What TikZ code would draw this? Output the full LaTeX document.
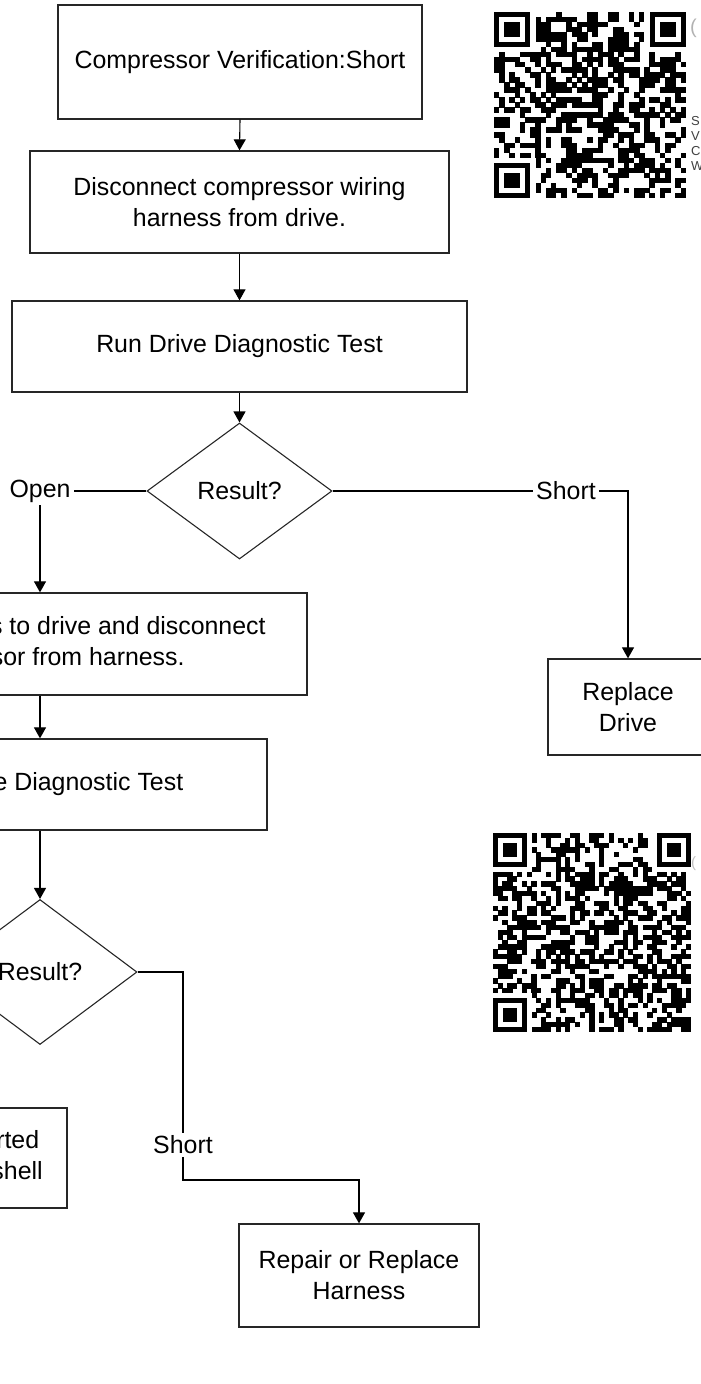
\documentclass[tikz,border=0pt]{standalone}
\usepackage{fontspec}
\setmainfont{Liberation Sans}
\usetikzlibrary{shapes.geometric,arrows.meta}
\newcommand{\mainfs}{\fontsize{24.9}{31}\selectfont}
\newcommand{\qrpattern}[6]{% x0, y0, width, height, N, seed
\begin{scope}[shift={(#1,#2)}]
\pgfmathsetseed{#6}
\pgfmathsetmacro{\qmx}{#3/#5}
\pgfmathsetmacro{\qmy}{#4/#5}
\pgfmathtruncatemacro{\qlast}{#5-1}
\pgfmathtruncatemacro{\qf}{#5-7}
\foreach \qi in {0,...,\qlast}{\foreach \qj in {0,...,\qlast}{%
  \pgfmathrandominteger{\qr}{0}{1}%
  \ifnum\qr=1 \fill[black] (\qi*\qmx-0.2,\qj*\qmy-0.2) rectangle ++(\qmx+0.4,\qmy+0.4);\fi}}
\foreach \fx/\fy in {0/0,\qf/0,0/\qf}{%
  \fill[white] ({(\fx-1)*\qmx},{(\fy-1)*\qmy}) rectangle ({(\fx+8)*\qmx},{(\fy+8)*\qmy});
  \fill[black] ({\fx*\qmx},{\fy*\qmy}) rectangle ({(\fx+7)*\qmx},{(\fy+7)*\qmy});
  \fill[white] ({(\fx+1)*\qmx},{(\fy+1)*\qmy}) rectangle ({(\fx+6)*\qmx},{(\fy+6)*\qmy});
  \fill[black] ({(\fx+2)*\qmx},{(\fy+2)*\qmy}) rectangle ({(\fx+5)*\qmx},{(\fy+5)*\qmy});
}
\end{scope}}
\begin{document}
\begin{tikzpicture}[x=1pt,y=-1pt,
  stepbox/.style={draw=black!85, line width=1.3pt, align=center, inner sep=0pt, font=\mainfs},
  decision/.style={draw=black!85, line width=1.1pt, shape=diamond, inner sep=0pt, font=\mainfs},
  conn/.style={draw=black, line width=1.1pt},
  arr/.style={conn, -{Triangle[width=12pt,length=11pt]}},
  lbl/.style={font=\mainfs, inner sep=3pt},
  qrside/.style={anchor=west, inner sep=0pt, font=\fontsize{13}{13}\selectfont, text=black!75}
]
\useasboundingbox (0,0) rectangle (701,1384);
\clip (0,0) rectangle (701,1384);

% QR codes
\qrpattern{494}{12}{192}{186}{37}{11}
\qrpattern{493}{833}{198}{199}{41}{27}
\node[anchor=west, inner sep=0pt, font=\fontsize{20}{20}\selectfont, text=black!30] (qp1) at (690,28) {(};
\node[qrside] (qs1) at (691,121) {S};
\node[qrside] (qs2) at (691,136) {V};
\node[qrside] (qs3) at (691,151) {C};
\node[qrside] (qs4) at (691,166) {W};
\node[anchor=west, inner sep=0pt, font=\fontsize{15}{15}\selectfont, text=black!25] (qp2) at (691,864) {(};

% boxes
\node[stepbox, minimum width=364, minimum height=114] (b1) at (240,62) {Compressor Verification:Short};
\node[stepbox, minimum width=419, minimum height=102] (b2) at (239.5,202) {Disconnect compressor wiring\\harness from drive.};
\node[stepbox, minimum width=455, minimum height=91] (b3) at (239.5,346.5) {Run Drive Diagnostic Test};
\node[decision, minimum width=185, minimum height=136] (d1) at (239.5,491) {Result?};
\node[lbl] (o1) at (40,491) {Open};
\node[lbl] (s1) at (566,491) {Short};
\node[stepbox, minimum width=534, minimum height=102] (b4) at (40,644) {Connect harness to drive and disconnect\\compressor from harness.};
\node[stepbox, minimum width=160, minimum height=96] (b6) at (628,707) {Replace\\Drive};
\node[stepbox, minimum width=454, minimum height=91] (b5) at (40,784.5) {Run Drive Diagnostic Test};
\node[decision, minimum width=194, minimum height=145] (d2) at (40,972) {Result?};
\node[stepbox, minimum width=306, minimum height=100] (b8) at (-86,1158) {Compressor is shorted\\to the compressor shell};
\node[lbl] (s2) at (183,1145) {Short};
\node[stepbox, minimum width=240, minimum height=103] (b7) at (359,1275.5) {Repair or Replace\\Harness};
\coordinate (k2) at (183,1180);

% connectors
\draw[arr] (b1.south) -- (b2.north);
\draw[arr] (b2.south) -- (b3.north);
\draw[arr] (b3.south) -- (d1.north);
\draw[conn] (d1.west) -- (o1.east);
\draw[arr] (o1.south) -- (b4.north);
\draw[conn] (d1.east) -- (s1.west);
\draw[arr] (s1.east) -| (b6.north);
\draw[arr] (b4.south) -- (b5.north);
\draw[arr] (b5.south) -- (d2.north);
\draw[conn] (d2.east) -| (s2.north);
\draw[arr] (s2.south) -- (k2) -| (b7.north);
\draw[arr] (d2.west) -| (b8.north);
\end{tikzpicture}
\end{document}
